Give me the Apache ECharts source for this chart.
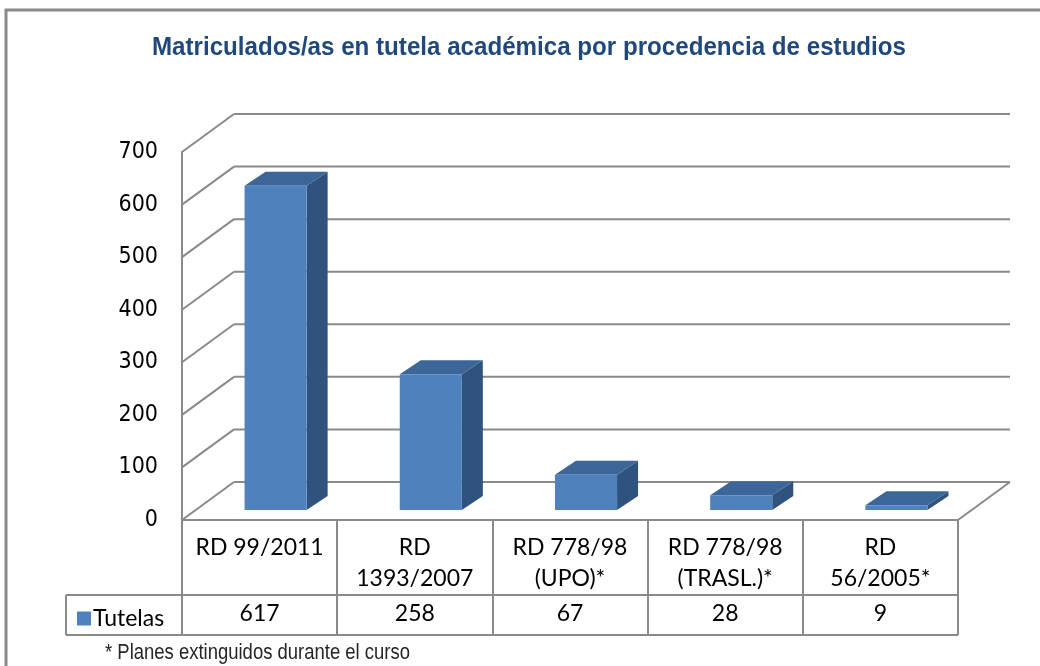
<!DOCTYPE html>
<html>
<head>
<meta charset="utf-8">
<script src="https://cdn.jsdelivr.net/npm/echarts@6/dist/echarts.min.js"></script>
<style>
html,body{margin:0;padding:0;background:#fff;}
#chart{width:1040px;height:666px;}
</style>
</head>
<body>
<div id="chart"></div>
<script>
const categories = ['RD 99/2011', 'RD\n1393/2007', 'RD 778/98\n(UPO)*', 'RD 778/98\n(TRASL.)*', 'RD\n56/2005*'];
const tutelas = [617, 258, 67, 28, 9];
const yTicks = [0, 100, 200, 300, 400, 500, 600, 700];
const seriesName = 'Tutelas';
const titleText = 'Matriculados/as en tutela académica por procedencia de estudios';
const footnote = '* Planes extinguidos durante el curso';

const NARROW = "'DejaVu Sans Condensed',sans-serif";
const ARIAL = "'Liberation Sans',Arial,sans-serif";
const CAL = "Lato,'Open Sans',sans-serif";
const GRID_COLOR = '#8a8a8a';
const DEPTH = [52, -38];      // full depth of the 3D box
const FACE = [16, -10];       // bar front face offset
const BAR_DEPTH = [21, -14];  // bar depth
const FRONT = '#4F81BD', TOP = '#3D6698', SIDE = '#30527F';

// narrow-font emulation: horizontal scale so text matches target width
function fitScale(text, font, target) {
  const ctx = document.createElement('canvas').getContext('2d');
  ctx.font = font;
  return target / ctx.measureText(text).width;
}
const titleScale = fitScale(titleText, "bold 25px 'Liberation Sans'", 754);
const footScale = fitScale(footnote, "22px 'Liberation Sans'", 305);

const chart = echarts.init(document.getElementById('chart'));

const wallData = yTicks.map(v => [0, v]);
const barData = tutelas.map((v, i) => [i, v]);

function renderWall(params, api) {
  const cs = params.coordSys;
  const v = api.value(1);
  const yf = api.coord([0, v])[1];
  const x0 = cs.x, x1 = cs.x + cs.width;
  const st = {stroke: GRID_COLOR, lineWidth: 2};
  const children = [
    {type: 'line', shape: {x1: x0, y1: yf, x2: x0 + DEPTH[0], y2: yf + DEPTH[1]}, style: st},
    {type: 'line', shape: {x1: x0 + DEPTH[0], y1: yf + DEPTH[1], x2: x1 + DEPTH[0], y2: yf + DEPTH[1]}, style: st}
  ];
  if (v === 0) {
    children.push({type: 'line', shape: {x1: x1, y1: yf, x2: x1 + DEPTH[0], y2: yf + DEPTH[1]}, style: st});
  }
  return {type: 'group', children: children};
}

function renderBar(params, api) {
  const i = api.value(0), v = api.value(1);
  const base = api.coord([i, 0]);
  const top = api.coord([i, v]);
  const w = api.size([1, 0])[0] * 0.40;
  const xl = base[0] - w / 2 + FACE[0], xr = base[0] + w / 2 + FACE[0];
  const yb = base[1] + FACE[1], yt = top[1] + FACE[1];
  const dx = BAR_DEPTH[0], dy = BAR_DEPTH[1];
  return {type: 'group', children: [
    {type: 'polygon', shape: {points: [[xr, yb], [xr + dx, yb + dy], [xr + dx, yt + dy], [xr, yt]]}, style: {fill: SIDE}},
    {type: 'polygon', shape: {points: [[xl, yt], [xr, yt], [xr + dx, yt + dy], [xl + dx, yt + dy]]}, style: {fill: TOP}},
    {type: 'rect', shape: {x: xl, y: yt, width: xr - xl, height: yb - yt}, style: {fill: FRONT}}
  ]};
}

const option = {
  backgroundColor: '#fff',
  animation: false,
  legend: {
    data: [seriesName], left: 72, top: 602, icon: 'rect', itemWidth: 14, itemHeight: 14, itemGap: 4,
    textStyle: {fontSize: 23, color: '#000', fontFamily: CAL, padding: [0, 0, 0, -3]}
  },
  grid: {left: 182, right: 82, top: 152, bottom: 146},
  xAxis: [{
    type: 'category', data: categories, gridIndex: 0,
    axisLine: {show: true, lineStyle: {color: GRID_COLOR, width: 2}},
    axisTick: {show: true, length: 115, lineStyle: {color: GRID_COLOR, width: 2}},
    axisLabel: {interval: 0, fontSize: 23, lineHeight: 31, color: '#000', fontFamily: CAL, margin: 12, verticalAlign: 'top'},
    splitLine: {show: false}
  }, {
    type: 'category', data: categories, gridIndex: 0, position: 'bottom', offset: 75,
    axisLine: {show: false}, axisTick: {show: false}, splitLine: {show: false},
    axisLabel: {interval: 0, fontSize: 23, lineHeight: 28, color: '#000', fontFamily: CAL, margin: 5, verticalAlign: 'top',
      formatter: (val, idx) => String(tutelas[idx])}
  }],
  yAxis: {
    type: 'value', min: 0, max: 700, interval: 100,
    axisLine: {show: true, lineStyle: {color: GRID_COLOR, width: 2}},
    axisTick: {show: false},
    splitLine: {show: false},
    axisLabel: {fontSize: 23, color: '#000', fontFamily: NARROW, margin: 24}
  },
  series: [{
    type: 'custom', name: 'walls', renderItem: renderWall, data: wallData, z: 1, silent: true,
    encode: {x: 0, y: 1}
  }, {
    type: 'custom', name: seriesName, renderItem: renderBar, data: barData, z: 3,
    itemStyle: {color: FRONT}, encode: {x: 0, y: 1}
  }],
  graphic: [
    {type: 'rect', shape: {x: 6, y: 10, width: 1060, height: 720}, style: {fill: null, stroke: '#8a8a8a', lineWidth: 3}, z: 0},
    {type: 'text', x: 529, y: 48, scaleX: titleScale,
      style: {text: titleText, fontSize: 25, fontWeight: 'bold', fill: '#1F497D', fontFamily: ARIAL, align: 'center', verticalAlign: 'middle'}},
    {type: 'line', shape: {x1: 66, y1: 595, x2: 958, y2: 595}, style: {stroke: GRID_COLOR, lineWidth: 2}},
    {type: 'line', shape: {x1: 66, y1: 635, x2: 958, y2: 635}, style: {stroke: GRID_COLOR, lineWidth: 2}},
    {type: 'line', shape: {x1: 66, y1: 595, x2: 66, y2: 635}, style: {stroke: GRID_COLOR, lineWidth: 2}},
    {type: 'text', x: 105, y: 653, scaleX: footScale,
      style: {text: footnote, fontSize: 22, fill: '#262626', fontFamily: ARIAL, verticalAlign: 'middle'}}
  ]
};
chart.setOption(option);
</script>
</body>
</html>
